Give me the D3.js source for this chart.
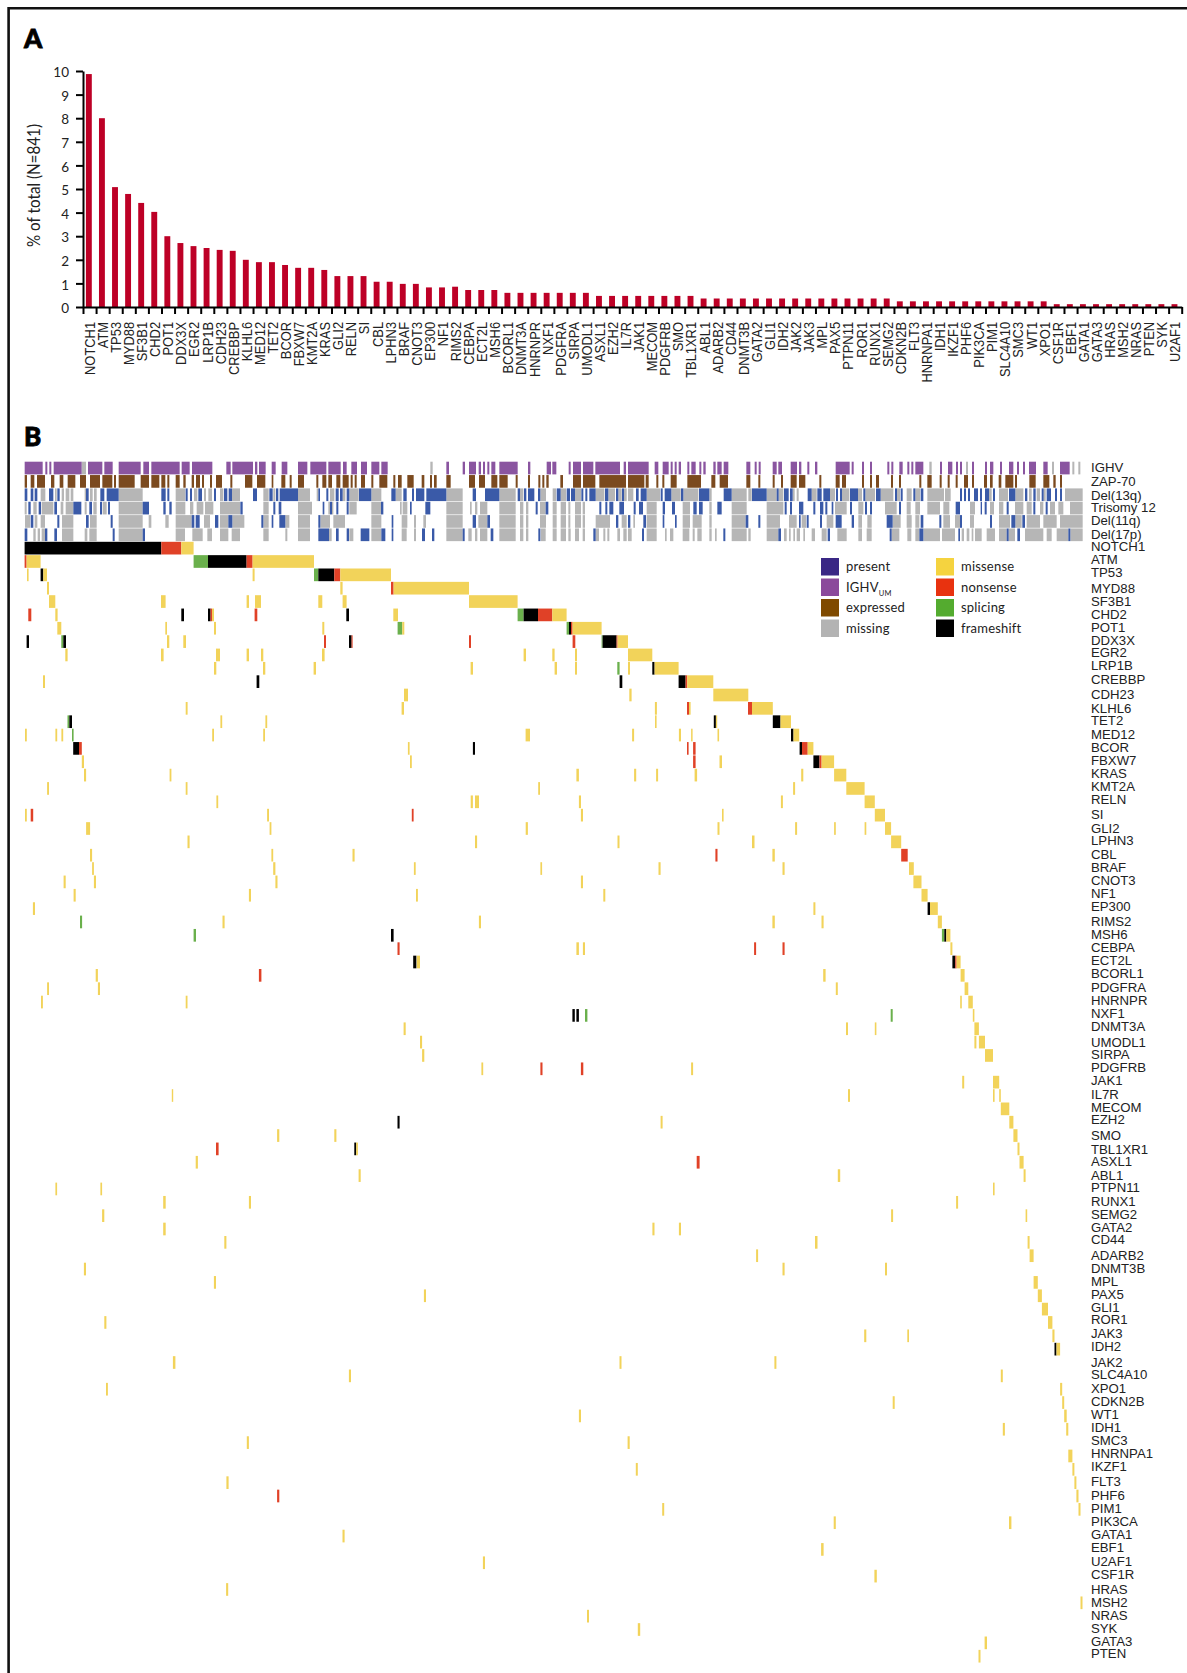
<!DOCTYPE html>
<meta charset="utf-8">
<style>
  body { margin: 0; background: #fff; }
  svg { display: block; }
  .geneLabel, .rowLabel { font-family: "Liberation Sans", sans-serif; fill: #222; }
  .geneLabel { font-size: 13.3px; }
  .rowLabel { font-size: 13.2px; }
  .yaxis text { font-family: Lato, sans-serif; font-size: 13.5px; fill: #222; }
  .legendText { font-family: Lato, sans-serif; font-size: 13px; fill: #222; letter-spacing: .2px; }
  .panel { font-family: Lato, sans-serif; font-weight: 900; font-size: 26px; fill: #000; stroke: #000; stroke-width: .8px; }
</style>

<svg width="1187" height="1673"></svg>
<script src="https://d3js.org/d3.v7.min.js"></script>
<script>
var svg = d3.select("svg");

// ---- Panel A data: % of patients with a mutation
var genes = ["NOTCH1","ATM","TP53","MYD88","SF3B1","CHD2","POT1","DDX3X","EGR2","LRP1B","CDH23","CREBBP","KLHL6","MED12","TET2","BCOR","FBXW7","KMT2A","KRAS","GLI2","RELN","SI","CBL","LPHN3","BRAF","CNOT3","EP300","NF1","RIMS2","CEBPA","ECT2L","MSH6","BCORL1","DNMT3A","HNRNPR","NXF1","PDGFRA","SIRPA","UMODL1","ASXL1","EZH2","IL7R","JAK1","MECOM","PDGFRB","SMO","TBL1XR1","ABL1","ADARB2","CD44","DNMT3B","GATA2","GLI1","IDH2","JAK2","JAK3","MPL","PAX5","PTPN11","ROR1","RUNX1","SEMG2","CDKN2B","FLT3","HNRNPA1","IDH1","IKZF1","PHF6","PIK3CA","PIM1","SLC4A10","SMC3","WT1","XPO1","CSF1R","EBF1","GATA1","GATA3","HRAS","MSH2","NRAS","PTEN","SYK","U2AF1"];
var percents = [9.87,8.0,5.08,4.79,4.41,4.03,3.0,2.71,2.58,2.5,2.42,2.38,2.0,1.9,1.9,1.78,1.66,1.66,1.57,1.31,1.31,1.31,1.07,1.07,0.98,0.98,0.83,0.83,0.86,0.72,0.72,0.72,0.6,0.6,0.6,0.6,0.6,0.6,0.6,0.47,0.47,0.47,0.47,0.47,0.47,0.47,0.47,0.36,0.36,0.36,0.36,0.36,0.36,0.36,0.36,0.36,0.36,0.36,0.36,0.36,0.36,0.36,0.24,0.24,0.24,0.24,0.24,0.24,0.24,0.24,0.24,0.24,0.24,0.24,0.12,0.12,0.12,0.12,0.12,0.12,0.12,0.12,0.12,0.12];
var yTicks = [0,1,2,3,4,5,6,7,8,9,10];

// ---- Panel B rows, top to bottom
var annotationRows = ["IGHV","ZAP-70","Del(13q)","Trisomy 12","Del(11q)","Del(17p)"];
var mutationGenes = ["NOTCH1","ATM","TP53","MYD88","SF3B1","CHD2","POT1","DDX3X","EGR2","LRP1B","CREBBP","CDH23","KLHL6","TET2","MED12","BCOR","FBXW7","KRAS","KMT2A","RELN","SI","GLI2","LPHN3","CBL","BRAF","CNOT3","NF1","EP300","RIMS2","MSH6","CEBPA","ECT2L","BCORL1","PDGFRA","HNRNPR","NXF1","DNMT3A","UMODL1","SIRPA","PDGFRB","JAK1","IL7R","MECOM","EZH2","SMO","TBL1XR1","ASXL1","ABL1","PTPN11","RUNX1","SEMG2","GATA2","CD44","ADARB2","DNMT3B","MPL","PAX5","GLI1","ROR1","JAK3","IDH2","JAK2","SLC4A10","XPO1","CDKN2B","WT1","IDH1","SMC3","HNRNPA1","IKZF1","FLT3","PHF6","PIM1","PIK3CA","GATA1","EBF1","U2AF1","CSF1R","HRAS","MSH2","NRAS","SYK","GATA3","PTEN"];

// Annotation runs along the patient order, flat start,end pairs
var ighvUM = [74,128,136,142,148,154,161,245,264,307,313,338,356,422,430,447,454,539,545,569,576,637,679,692,697,759,765,772,777,797,815,827,845,862,894,922,931,979,985,1022,1029,1040,1054,1071,1083,1101,1114,1138,1144,1163,1339,1347,1388,1395,1407,1428,1436,1443,1449,1455,1462,1468,1474,1486,1498,1553,1584,1591,1640,1653,1657,1669,1706,1712,1719,1743,1749,1780,1786,1860,1871,1878,1884,1946,1964,1975,1988,2006,2012,2018,2024,2030,2036,2043,2062,2068,2074,2087,2098,2104,2110,2117,2140,2147,2152,2165,2171,2185,2239,2251,2264,2270,2276,2282,2318,2330,2335,2346,2372,2391,2397,2404,2422,2428,2445,2452,2507,2549,2555,2561,2586,2592,2610,2616,2662,2668,2674,2680,2698,2708,2722,2728,2734,2740,2746,2770,2820,2826,2844,2857,2868,2874,2880,2886,2916,2922,2955,2961,2970,2980,3000,3006,3027,3040,3051,3057,3069,3075,3087,3108,3130,3143,3180,3209];
var ighvMissing = [245,258,1291,1298,2788,2795,2898,2904,3156,3162,3217,3223,3235,3241];
var zapExpressed = [74,81,92,103,111,135,153,163,179,190,203,226,240,258,270,300,307,337,342,348,356,404,422,447,454,478,484,496,502,508,527,539,550,557,575,582,588,600,606,612,630,636,648,666,691,697,735,757,771,796,815,820,844,856,869,875,894,912,949,955,967,979,985,996,1009,1021,1028,1046,1052,1058,1064,1070,1083,1095,1114,1120,1138,1162,1180,1186,1194,1205,1222,1241,1265,1273,1290,1296,1302,1310,1339,1352,1407,1425,1437,1455,1474,1492,1498,1523,1547,1553,1584,1590,1615,1621,1627,1633,1639,1646,1681,1689,1719,1743,1749,1786,1798,1878,1884,1933,1937,1946,1969,1975,1987,1993,2012,2030,2062,2103,2134,2146,2159,2184,2239,2251,2275,2281,2318,2324,2343,2349,2372,2390,2397,2416,2458,2464,2507,2519,2526,2538,2586,2592,2610,2616,2628,2637,2673,2679,2697,2703,2758,2764,2782,2795,2819,2825,2843,2849,2867,2873,2892,2904,2916,2922,2952,2961,2970,2978,2996,3004,3016,3040,3045,3051,3088,3107,3130,3148,3160,3167,3180,3186];
var del13qPresent = [74,82,92,100,104,112,147,160,172,179,258,266,301,313,320,356,484,497,502,508,557,563,570,576,595,606,642,648,672,682,686,696,759,771,808,818,828,835,839,894,955,960,979,985,1007,1016,1020,1028,1040,1048,1077,1114,1174,1187,1210,1220,1236,1242,1248,1273,1279,1339,1418,1428,1455,1498,1553,1560,1572,1579,1584,1603,1614,1621,1670,1682,1700,1710,1713,1725,1744,1750,1756,1762,1768,1787,1815,1825,1848,1855,1866,1872,1908,1916,1922,1940,1982,1988,1994,2014,2043,2050,2097,2128,2171,2195,2256,2300,2330,2336,2352,2366,2370,2378,2423,2435,2452,2465,2470,2490,2508,2514,2520,2526,2550,2574,2590,2596,2628,2642,2685,2691,2702,2708,2740,2746,2762,2770,2880,2886,2892,2898,2904,2910,2922,2934,2940,2946,2955,2967,2979,2985,3027,3046,3075,3082,3100,3107,3125,3131,3140,3153,3165,3171,3180,3186];
var del13qMissing = [122,136,165,170,185,192,197,208,212,220,254,258,270,278,282,290,356,428,527,556,582,592,612,618,625,636,660,670,696,720,790,806,820,826,894,930,950,955,990,1003,1028,1036,1048,1076,1114,1144,1187,1205,1339,1388,1498,1547,1560,1570,1621,1638,1658,1668,1682,1698,1725,1743,1787,1813,1825,1845,1855,1865,1872,1880,1884,1900,1940,1980,2014,2042,2050,2095,2128,2135,2195,2240,2245,2255,2300,2330,2336,2350,2378,2384,2390,2396,2435,2450,2490,2505,2526,2548,2574,2586,2596,2625,2642,2680,2691,2700,2720,2735,2746,2760,2782,2832,2835,2852,2967,2975,2997,3024,3046,3070,3087,3095,3110,3120,3131,3137,3195,3248];
var tri12Present = [85,92,116,123,163,171,220,244,268,276,300,306,324,330,428,447,490,497,508,515,721,728,820,826,836,844,968,973,990,996,1009,1015,1040,1046,1143,1150,1230,1235,1276,1291,1607,1613,1637,1645,1798,1804,1816,1822,1828,1840,1858,1872,1901,1907,1917,1929,1988,1995,2016,2025,2080,2090,2097,2108,2152,2165,2354,2360,2370,2376,2397,2410,2440,2446,2460,2470,2476,2482,2495,2500,2550,2556,2595,2601,2610,2616,2697,2703,2867,2880,2942,2946,2954,2960,3020,3026,3100,3106,3137,3143];
var tri12Missing = [74,80,100,110,125,160,182,190,197,220,254,260,280,290,308,320,356,428,527,556,570,580,590,610,615,640,660,720,790,806,894,936,985,990,996,1000,1048,1070,1114,1144,1200,1205,1208,1222,1339,1388,1410,1415,1425,1432,1440,1462,1498,1547,1560,1570,1578,1585,1620,1637,1658,1670,1682,1698,1705,1711,1725,1743,1748,1755,1940,1970,2048,2070,2128,2135,2195,2240,2300,2350,2505,2540,2575,2590,2655,2690,2720,2732,2746,2760,2782,2820,2830,2848,2910,2925,2970,2982,2997,3010,3045,3070,3080,3095,3120,3130,3150,3165,3175,3190,3210,3248];
var del11qPresent = [92,100,172,178,258,266,332,338,575,583,587,599,645,655,685,697,784,790,815,820,838,856,955,961,1175,1180,1418,1428,1462,1470,1848,1855,1884,1891,1930,1938,1988,1993,2025,2030,2237,2245,2275,2281,2397,2402,2420,2426,2460,2466,2507,2525,2555,2562,2660,2678,2762,2770,2818,2824,2880,2886,2970,2976,3034,3046,3067,3075];
var del11qMissing = [75,90,104,112,122,135,186,220,270,290,356,428,446,454,496,506,527,575,612,630,660,685,697,733,790,806,856,868,894,930,961,990,1000,1035,1114,1144,1205,1222,1242,1248,1270,1278,1339,1388,1435,1462,1498,1547,1560,1570,1578,1585,1620,1638,1658,1670,1682,1698,1705,1711,1725,1743,1748,1755,1787,1830,1865,1880,1900,1905,1940,1970,2048,2070,2078,2105,2128,2135,2195,2237,2300,2340,2367,2390,2405,2418,2480,2500,2575,2586,2602,2615,2678,2702,2720,2735,2746,2758,2830,2850,2865,2880,2910,2922,2997,3030,3046,3065,3080,3120,3130,3170,3180,3248];
var del17pPresent = [74,82,135,142,163,171,338,344,428,435,955,987,1008,1016,1040,1047,1082,1108,1144,1156,1175,1180,1266,1275,1296,1303,1388,1394,1472,1480,1615,1621,1780,1787,1926,1932,2170,2176,2335,2343,2483,2490,2669,2675,2758,2770,2875,2880,3020,3026,3052,3060,3205,3211];
var del17pMissing = [100,107,113,120,125,135,186,220,254,262,268,290,356,428,527,555,577,608,622,636,660,685,695,720,790,806,856,862,894,930,987,995,1048,1060,1114,1144,1205,1220,1242,1248,1339,1388,1405,1415,1425,1432,1440,1462,1498,1547,1560,1570,1578,1585,1622,1637,1658,1670,1682,1698,1705,1712,1725,1737,1748,1755,1787,1797,1810,1816,1822,1828,1852,1860,1870,1880,1884,1895,1940,1970,1995,2000,2010,2020,2048,2068,2078,2084,2092,2105,2128,2135,2145,2150,2195,2240,2245,2252,2300,2335,2352,2360,2367,2372,2380,2385,2390,2400,2410,2415,2435,2445,2465,2480,2512,2540,2575,2586,2600,2615,2675,2698,2722,2734,2746,2758,2770,2820,2826,2865,2885,2892,2900,2908,2915,2920,2925,2945,2960,2985,2997,3020,3026,3045,3075,3130,3140,3155,3170,3205,3211,3248];

// Mutations per gene, same order as mutationGenes: [start, end, type]
var mutationRuns = [
  [[0,136.7,"f"],[136.7,156.7,"n"],[156.7,169,"m"]],
  [[0,2,"n"],[2,16,"m"],[169,183.4,"s"],[183.4,222,"f"],[222,228,"n"],[228,289.4,"m"]],
  [[2.4,4,"m"],[16,18.7,"f"],[18.7,22.4,"m"],[228,230,"m"],[289.4,293.7,"s"],[293.7,309.7,"f"],[309.7,315.7,"n"],[315.7,366.4,"m"]],
  [[22.4,24.4,"m"],[315.7,318,"m"],[366.4,369,"n"],[369,444.4,"m"]],
  [[24.4,30.7,"m"],[136.4,141,"m"],[222,224.4,"m"],[230.4,236.4,"m"],[293.7,297.7,"m"],[318,322,"m"],[444.4,493,"m"]],
  [[3.7,6.7,"n"],[30.7,33,"m"],[156.7,159.4,"f"],[183.4,186,"f"],[186,187.4,"n"],[187.4,189.4,"m"],[230,232.7,"n"],[321.7,324.4,"f"],[368.7,373.4,"m"],[493,499,"s"],[499,513.4,"f"],[513.4,527.7,"n"],[527.7,542,"m"]],
  [[32.7,36.7,"m"],[140.7,142.4,"m"],[189.4,191.4,"m"],[297.7,299.7,"m"],[373,377.7,"s"],[377.7,379.7,"m"],[542,544.4,"s"],[544.4,546.4,"f"],[546.4,548,"n"],[548,577,"m"]],
  [[2,4.4,"f"],[36.7,38.7,"s"],[38.7,41.4,"f"],[142.4,144.7,"m"],[158.7,161.4,"m"],[299.4,301.4,"n"],[324.4,327,"f"],[327,328,"n"],[444.4,446.4,"n"],[548,550.7,"n"],[577,578,"s"],[578,592,"f"],[592,593,"n"],[593,603.4,"m"]],
  [[40.7,43,"m"],[136.4,139,"m"],[191.4,195.4,"m"],[222,224.4,"m"],[236.4,238.7,"m"],[297.4,300,"m"],[499,501.4,"m"],[527.7,530,"m"],[550.4,552.4,"m"],[603.4,627.7,"m"]],
  [[189.4,191.7,"m"],[238.4,240.7,"m"],[289,291.4,"m"],[446,448.4,"m"],[530,532.4,"m"],[550.4,552.4,"m"],[592.7,595,"s"],[603.4,605.4,"m"],[627.7,630,"f"],[630,654,"m"]],
  [[18.4,20.4,"m"],[232,234.7,"f"],[595,597.7,"f"],[654,661,"f"],[661,662.7,"n"],[662.7,688.7,"m"]],
  [[379.4,383.4,"m"],[604.7,607,"m"],[688.7,723.7,"m"]],
  [[161.1,163,"m"],[377,379.4,"m"],[630.3,632.3,"m"],[662.4,664.4,"n"],[664.4,666,"m"],[723.4,727.4,"n"],[727.4,748.2,"m"]],
  [[42.9,44.7,"s"],[44.7,47.4,"f"],[195.8,197.6,"m"],[240.8,242.6,"m"],[630.4,632,"m"],[689.2,691.3,"f"],[691.3,692.6,"m"],[748.2,755.9,"f"],[755.9,766.4,"m"]],
  [[0.4,2.2,"m"],[30.8,32.6,"m"],[36.8,38.6,"m"],[47.4,49,"s"],[187.6,189.4,"m"],[238.6,240.4,"m"],[501,505.4,"m"],[607.5,609.5,"m"],[654.3,656.4,"m"],[666.5,668,"m"],[692.9,694.5,"m"],[766.4,768.9,"f"],[768.9,774.6,"m"]],
  [[48.6,54.4,"f"],[54.4,57.2,"n"],[383.3,385,"m"],[448.3,450.4,"f"],[662.4,664,"n"],[668.5,671,"n"],[775,777.4,"f"],[777.4,783.1,"n"],[783.1,788.8,"m"]],
  [[57.2,59.4,"m"],[385.4,387.2,"m"],[668.5,671,"n"],[694.9,697.4,"m"],[788.8,794.9,"f"],[794.9,797,"n"],[797,809.5,"m"]],
  [[59.4,61.5,"m"],[145,146.8,"m"],[551.8,554.3,"m"],[609.5,611.6,"m"],[631.5,633.5,"m"],[670,672.5,"m"],[776.6,778.7,"m"],[809.5,821.7,"m"]],
  [[22.5,24.4,"m"],[161.1,162.9,"m"],[513.6,515.4,"m"],[768.5,770.5,"m"],[821.7,840,"m"]],
  [[191.8,193.6,"m"],[446.1,448.3,"m"],[450.4,454.4,"m"],[554.3,556.4,"m"],[756.3,758.3,"m"],[840,850.2,"m"]],
  [[0.4,2.2,"m"],[6.1,8.6,"n"],[242.5,244.4,"m"],[387.2,389,"n"],[556.3,558.4,"m"],[697.4,699,"m"],[850.2,860.4,"m"]],
  [[61.5,65.5,"m"],[245,246.8,"m"],[501.1,503.3,"m"],[692.9,694.9,"m"],[770.5,772.5,"m"],[809.5,811.2,"m"],[840,841.7,"m"],[860.4,866.5,"m"]],
  [[162.9,165,"m"],[450.4,452.5,"m"],[592.9,594.9,"m"],[727.4,729.9,"m"],[866.5,876.6,"m"]],
  [[65.4,67.5,"m"],[246.8,248.6,"m"],[327.9,330,"m"],[690.8,692.9,"n"],[747.8,750.2,"m"],[876.6,883.1,"n"]],
  [[67.5,69.3,"m"],[248.6,250.8,"m"],[389.3,391.1,"m"],[515.8,517.5,"m"],[633.9,636,"m"],[757.9,760,"m"],[884.4,889.2,"m"]],
  [[39,41.1,"m"],[69.3,71.4,"m"],[250.8,252.9,"m"],[556.3,558.4,"m"],[888.8,896.9,"m"]],
  [[49,51.1,"m"],[224.3,226.4,"m"],[391.4,393.3,"m"],[578.7,580.7,"m"],[896.9,903,"m"]],
  [[8.3,10.4,"m"],[788.8,790.8,"m"],[903,905.4,"f"],[905.4,913.2,"m"]],
  [[55.4,57.5,"s"],[197.9,200,"m"],[454.3,456.4,"m"],[747.8,750.2,"m"],[796.9,799,"m"],[913.2,917.3,"m"]],
  [[169,171.4,"s"],[366.4,369,"f"],[917.3,919.7,"s"],[919.7,921.7,"f"],[921.7,925.8,"m"]],
  [[372.9,375,"n"],[551.8,554.3,"m"],[558.3,560.4,"m"],[729.5,731.5,"n"],[757.9,760,"n"],[925.8,927.8,"m"]],
  [[388.6,391.8,"f"],[392.2,395.4,"m"],[927.8,930.7,"f"],[930.7,932,"n"],[932,936,"m"]],
  [[71.1,73.3,"m"],[234.3,236.8,"n"],[798.6,801,"m"],[936,940,"m"]],
  [[22.5,24.4,"m"],[73.3,75.4,"m"],[811.2,813.2,"m"],[940,943.7,"m"]],
  [[16.4,18.3,"m"],[161.1,162.9,"m"],[935.6,937.2,"m"],[943.7,948.2,"m"]],
  [[547.8,550.2,"f"],[551.8,554.3,"f"],[560.4,562.8,"s"],[866.1,868.1,"s"],[948.2,949.8,"m"]],
  [[379,381.1,"m"],[821.4,823.4,"m"],[850.2,851.8,"m"],[949.8,954.3,"m"]],
  [[395.4,397.5,"m"],[949.8,951.8,"m"],[954.3,960.4,"m"]],
  [[397.5,399.7,"m"],[960.4,968.4,"m"]],
  [[456.8,458.6,"m"],[515.8,517.9,"n"],[556.3,558.7,"n"],[666.5,668.5,"m"]],
  [[937.6,939.6,"m"],[968.4,974.6,"m"]],
  [[147.2,148.6,"m"],[823.4,825.4,"m"],[968.4,970,"m"],[974.6,976.2,"m"]],
  [[976.2,984.7,"m"]],
  [[372.9,375,"f"],[636,638,"m"],[984.7,988.8,"m"]],
  [[252.5,254.7,"m"],[309.7,311.8,"m"],[988.8,992.9,"m"]],
  [[191.4,194,"n"],[329.7,331.6,"f"],[331.6,333.3,"m"],[992.9,994.9,"m"]],
  [[171.1,173.3,"m"],[672.1,675,"n"],[994.9,999,"m"]],
  [[334,336.1,"m"],[813.2,815.6,"m"],[999,1001,"m"]],
  [[30.8,32.5,"m"],[75.8,77.5,"m"],[968.4,970,"m"]],
  [[138.6,141.1,"m"],[224.3,226.4,"m"],[931.5,933.5,"m"]],
  [[77.5,79.7,"m"],[866.5,868.5,"m"],[1001,1002.6,"m"]],
  [[138.6,141.1,"m"],[627.8,629.9,"m"],[654.3,656.4,"m"]],
  [[199.7,201.8,"m"],[790.4,792.9,"m"],[1003,1005,"m"]],
  [[731.5,733.5,"m"],[1005,1009,"m"]],
  [[59.3,61.4,"m"],[757.9,760,"m"],[860.4,862.4,"m"]],
  [[189.3,191.4,"m"],[1009,1013.2,"m"]],
  [[399.3,401.4,"m"],[1013.2,1017.3,"m"]],
  [[1017.3,1023.4,"m"]],
  [[79.7,81.8,"m"],[1023.4,1027.8,"m"]],
  [[839.6,841.7,"m"],[882.7,884.4,"m"],[1027.8,1029.9,"m"]],
  [[1029.9,1031.9,"f"],[1031.9,1035.5,"m"]],
  [[148.3,150.8,"m"],[594.9,596.9,"m"],[749.8,751.8,"m"]],
  [[324.3,326.4,"m"],[976.2,978.2,"m"]],
  [[81.4,83.3,"m"],[1035.5,1037.6,"m"]],
  [[868.1,870.1,"m"],[1037.6,1039.6,"m"]],
  [[554.3,556.4,"m"],[1039.6,1042.1,"m"]],
  [[978.2,980.3,"m"],[1041.6,1043.7,"m"]],
  [[222.2,224.3,"m"],[603,605.1,"m"]],
  [[1043.7,1047.8,"m"]],
  [[611.2,613.2,"m"],[1047.8,1049.8,"m"]],
  [[201.8,204,"m"],[1049.8,1051.8,"m"]],
  [[252.5,254.7,"n"],[1051.8,1053.9,"m"]],
  [[637.6,639.6,"m"],[1053.9,1055.9,"m"]],
  [[809.1,811.2,"m"],[984.4,986.8,"m"]],
  [[317.9,320,"m"]],
  [[796.5,799,"m"]],
  [[458.3,460.4,"m"]],
  [[849.8,852.2,"m"]],
  [[201.5,203.6,"m"]],
  [[1055.9,1057.9,"m"]],
  [[562.4,564.4,"m"]],
  [[613.2,615.6,"m"]],
  [[960,962.4,"m"]],
  [[953.9,955.9,"m"]]
];

// Right hand row labels sit a little unevenly in the figure (layout, not data)
var rowLabelY = [467.3,481.7,495,507.7,520.7,534.3,546.7,559.7,572.3,588.3,601.7,614.3,627,640.3,652.3,665.7,679.3,694.3,708.3,720.7,734.3,747.3,760.3,773.3,786.7,799.3,814.3,828.3,840.3,854.3,867,880.3,893.3,906.3,921.3,934.3,947.3,960.3,973.3,987.3,1000.3,1013.3,1026.7,1042.3,1054.3,1067.3,1080.3,1094.3,1107.3,1119.7,1135.3,1149.3,1161.3,1175.3,1187.3,1201.3,1214.3,1227.3,1239.7,1255.3,1268.3,1281.3,1294.3,1307.7,1319.7,1333.3,1346.3,1362,1374.3,1388.3,1401.3,1414.3,1427.3,1440.3,1453.3,1466.7,1481.3,1495.3,1508.3,1521.3,1534.3,1547.3,1561.3,1574.3,1589.3,1602.6,1614.8,1628.3,1641.3,1653.3];

var legendLeft = [["present","#3a2785"],["IGHV","#8b4a9b"],["expressed","#7f4a00"],["missing","#b3b3b3"]];
var legendRight = [["missense","#f5d33f"],["nonsense","#e8320f"],["splicing","#54ab2f"],["frameshift","#000000"]];

var typeColor = {m: "#f2d35a", n: "#e04127", s: "#6ab04c", f: "#000000"};
var purple = "#8a55a0", brown = "#7b4a1f", blue = "#3a5aa8", grey = "#b6b6b6";

// flat start,end list -> pairs
function runs(flat) {
  return d3.range(0, flat.length, 2).map(function(i) { return [flat[i], flat[i + 1]]; });
}

// Figure frame (top and left rule only, the crop loses the rest)
svg.append("path").attr("fill", "none").attr("stroke", "#111").attr("stroke-width", 2.6)
    .attr("d", d3.line()([[8.6, 1673], [8.6, 8.3], [1187, 8.3]]));

svg.append("text").attr("class", "panel").attr("x", 24).attr("y", 48).text("A");
svg.append("text").attr("class", "panel").attr("x", 24).attr("y", 446).text("B");

// ---- Panel A
var xBand = d3.scaleBand().domain(genes).range([83, 1181.7]);
var xEdge = d3.scalePoint().domain(d3.range(genes.length + 1)).range([83, 1181.7]);
var y = d3.scaleLinear().domain([0, 10]).range([307, 71]);

svg.append("g").selectAll("rect")
    .data(genes)
    .enter().append("rect")
      .attr("x", function(d) { return xBand(d) + 2.9; })
      .attr("width", 5.9)
      .attr("y", function(d, i) { return y(percents[i]); })
      .attr("height", function(d, i) { return y(0) - y(percents[i]); })
      .attr("fill", "#bd0026");

var yAxis = svg.append("g").attr("class", "yaxis")
    .attr("transform", "translate(83,0)")
    .call(d3.axisLeft(y).tickValues(yTicks).tickSize(7).tickSizeOuter(0).tickPadding(7));
yAxis.selectAll("line").attr("stroke", "#000").attr("stroke-width", 2);
yAxis.select(".domain").attr("stroke", "#000").attr("stroke-width", 2);
yAxis.selectAll("text").attr("dy", ".42em");

var edgeAxis = svg.append("g")
    .attr("transform", "translate(0,307)")
    .call(d3.axisBottom(xEdge).tickSize(7).tickSizeOuter(0).tickFormat(""));
edgeAxis.selectAll("line").attr("stroke", "#000").attr("stroke-width", 2);
edgeAxis.select(".domain").attr("stroke", "#000").attr("stroke-width", 2);

var labelAxis = svg.append("g")
    .attr("transform", "translate(0,307)")
    .call(d3.axisBottom(xBand).tickSize(0));
labelAxis.select(".domain").remove();
// the labels are a bit taller across than the plain face, stretch them
labelAxis.selectAll("text")
    .attr("class", "geneLabel")
    .attr("transform", "rotate(-90) scale(.97,1.1)")
    .attr("x", -15.4)
    .attr("y", 0)
    .attr("dy", ".36em")
    .attr("text-anchor", "end");

svg.append("text")
    .attr("transform", "translate(40,185.5) rotate(-90)")
    .attr("text-anchor", "middle")
    .attr("textLength", 123)
    .attr("lengthAdjust", "spacingAndGlyphs")
    .style("font-family", "Lato, sans-serif")
    .style("font-size", "17px")
    .style("fill", "#222")
    .text("% of total (N=841)");

// ---- Panel B
var allRows = annotationRows.concat(mutationGenes);
var yRow = d3.scaleBand().domain(allRows).range([461.7, 1662.55]).paddingInner(0.05);
var xAnnot = d3.scaleLinear().domain([74, 3248]).range([24.67, 1082.67]);
var xMut = d3.scaleLinear().domain([0, 1058]).range([24.6, 1082.6]);

var annotLayers = [
  ["IGHV", ighvMissing, grey], ["IGHV", ighvUM, purple],
  ["ZAP-70", zapExpressed, brown],
  ["Del(13q)", del13qMissing, grey], ["Del(13q)", del13qPresent, blue],
  ["Trisomy 12", tri12Missing, grey], ["Trisomy 12", tri12Present, blue],
  ["Del(11q)", del11qMissing, grey], ["Del(11q)", del11qPresent, blue],
  ["Del(17p)", del17pMissing, grey], ["Del(17p)", del17pPresent, blue]
];

svg.append("g").selectAll("g")
    .data(annotLayers)
    .enter().append("g")
      .attr("fill", function(d) { return d[2]; })
      .each(function(layer) {
        d3.select(this).selectAll("rect")
            .data(runs(layer[1]))
            .enter().append("rect")
              .attr("x", function(d) { return xAnnot(d[0]); })
              .attr("width", function(d) { return xAnnot(d[1]) - xAnnot(d[0]); })
              .attr("y", yRow(layer[0]))
              .attr("height", yRow.bandwidth());
      });

svg.append("g").selectAll("g")
    .data(mutationGenes)
    .enter().append("g")
      .each(function(gene, i) {
        d3.select(this).selectAll("rect")
            .data(mutationRuns[i])
            .enter().append("rect")
              .attr("x", function(d) { return xMut(d[0]); })
              .attr("width", function(d) { return xMut(d[1]) - xMut(d[0]); })
              .attr("y", yRow(gene))
              .attr("height", yRow.bandwidth())
              .attr("fill", function(d) { return typeColor[d[2]]; });
      });

svg.append("g").selectAll("text")
    .data(allRows)
    .enter().append("text")
      .attr("class", "rowLabel")
      .attr("x", 1091)
      .attr("y", function(d, i) { return rowLabelY[i]; })
      .attr("dy", ".36em")
      .text(function(d) { return d; });

// Legend
var legendY = d3.scalePoint().domain(d3.range(4)).range([558, 619.5]);
function legendColumn(items, x) {
  var g = svg.append("g");
  g.selectAll("rect").data(items).enter().append("rect")
      .attr("x", x).attr("width", 18).attr("height", 17.5)
      .attr("y", function(d, i) { return legendY(i); })
      .attr("fill", function(d) { return d[1]; });
  g.selectAll("text").data(items).enter().append("text")
      .attr("class", "legendText")
      .attr("x", x + 25)
      .attr("y", function(d, i) { return legendY(i) + 13; })
      .text(function(d) { return d[0]; });
  return g;
}
var leftCol = legendColumn(legendLeft, 821);
legendColumn(legendRight, 936);
leftCol.selectAll("text").filter(function(d) { return d[0] === "IGHV"; })
    .append("tspan").attr("dy", 4).style("font-size", "7.5px").text("UM");
</script>
